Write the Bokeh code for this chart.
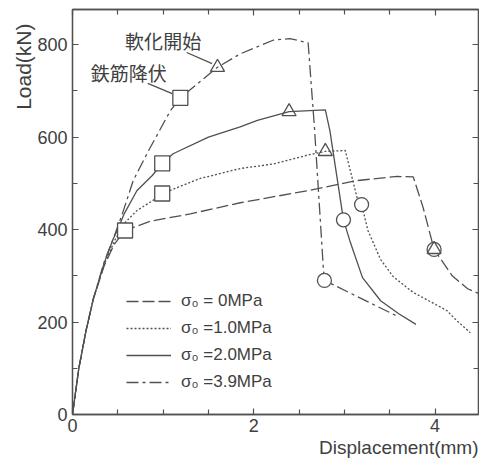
from bokeh.plotting import figure
from bokeh.models import Range1d, LinearAxis, FixedTicker, Legend, LegendItem, Title
from bokeh.embed import file_html
from bokeh.resources import INLINE
from bokeh.core.properties import value

# ---- data ----
x_s0 = [0, 0.07, 0.15, 0.23, 0.35, 0.46, 0.58, 0.86, 1.30, 1.85, 2.59, 3.14, 3.58, 3.76, 3.87, 3.99, 4.19, 4.36, 4.48]
y_s0 = [0, 100, 182, 250, 322, 368, 398, 418, 434, 458, 484, 506, 515, 514, 447, 357, 300, 272, 262]

x_s1 = [0, 0.07, 0.15, 0.23, 0.35, 0.47, 0.58, 0.71, 0.88, 0.99, 1.40, 1.85, 2.22, 2.59, 2.79, 3.01, 3.14, 3.19, 3.26, 3.40, 3.54, 3.76, 4.13, 4.24, 4.39]
y_s1 = [0, 100, 182, 250, 325, 378, 415, 441, 462, 478, 510, 532, 542, 561, 569, 571, 469, 454, 398, 335, 298, 264, 225, 203, 177]

x_s2 = [0, 0.07, 0.15, 0.23, 0.35, 0.45, 0.51, 0.57, 0.71, 0.88, 0.99, 1.11, 1.50, 1.85, 2.04, 2.39, 2.79, 2.84, 2.99, 3.06, 3.20, 3.40, 3.60, 3.79]
y_s2 = [0, 100, 182, 250, 328, 380, 405, 434, 484, 517, 543, 564, 600, 622, 636, 655, 659, 614, 421, 376, 296, 246, 218, 195]

x_s3 = [0, 0.07, 0.15, 0.23, 0.35, 0.47, 0.55, 0.67, 0.84, 1.08, 1.19, 1.60, 1.85, 2.22, 2.40, 2.60, 2.67, 2.77, 2.78, 3.59]
y_s3 = [0, 100, 182, 250, 330, 391, 434, 506, 571, 657, 685, 751, 780, 810, 813, 804, 620, 310, 290, 212]

series_labels = ["σ₀ = 0MPa", "σ₀ =1.0MPa", "σ₀ =2.0MPa", "σ₀ =3.9MPa"]

# markers: rebar yield (squares), softening start (triangles), circles
sq_x = [0.58, 0.99, 0.99, 1.19]
sq_y = [398, 478, 543, 685]
tri_x = [3.99, 2.79, 2.39, 1.60]
tri_y = [357, 569, 655, 751]
cir_x = [3.99, 3.19, 2.99, 2.78]
cir_y = [357, 454, 421, 290]

# annotations
ann_text = ["軟化開始", "鉄筋降伏"]
ann_x = [1.00, 0.62]
ann_y = [809, 739]
lead_x0 = [1.26, 0.83]
lead_y0 = [783, 716]
lead_x1 = [1.54, 1.10]
lead_y1 = [759, 694]

x_major = [0, 2, 4]
x_minor = [0.5, 1, 1.5, 2.5, 3, 3.5, 4.5]
y_major = [0, 200, 400, 600, 800]
y_minor = [100, 300, 500, 700]

x_title = "Displacement(mm)"
y_title = "Load(kN)"

# ---- style ----
LC = "#505050"
TC = "#404040"
FONT = "Liberation Sans"

p = figure(width=479, height=463, x_range=Range1d(0, 4.48), y_range=Range1d(0, 876),
           output_backend="svg", toolbar_location=None,
           min_border_left=72, min_border_right=1, min_border_top=9, min_border_bottom=49)
p.grid.visible = False
p.outline_line_color = LC
p.outline_line_width = 1.3
p.background_fill_color = "white"
p.border_fill_color = "white"

xt = FixedTicker(ticks=x_major, minor_ticks=x_minor)
yt = FixedTicker(ticks=y_major, minor_ticks=y_minor)


def style(ax, labels=True):
    ax.axis_line_color = LC
    ax.axis_line_width = 1.3
    ax.major_tick_line_color = LC
    ax.minor_tick_line_color = LC
    ax.major_tick_line_width = 1.2
    ax.minor_tick_line_width = 1.2
    ax.major_tick_in = 6
    ax.major_tick_out = 0
    ax.minor_tick_in = 5
    ax.minor_tick_out = 0
    if labels:
        ax.major_label_text_font = FONT
        ax.major_label_text_font_size = "18px"
        ax.major_label_text_color = TC
        ax.major_label_standoff = 5
    else:
        ax.major_label_text_font_size = "0px"
        ax.major_label_standoff = 0


p.xaxis.ticker = xt
p.yaxis.ticker = yt
style(p.xaxis[0])
style(p.yaxis[0])
p.xaxis[0].major_label_standoff = 4

top = LinearAxis(ticker=FixedTicker(ticks=x_major, minor_ticks=x_minor),
                 major_label_overrides={0: "", 2: "", 4: ""})
style(top, labels=False)
p.add_layout(top, "above")
right = LinearAxis(ticker=FixedTicker(ticks=y_major, minor_ticks=y_minor),
                   major_label_overrides={0: "", 200: "", 400: "", 600: "", 800: ""})
style(right, labels=False)
p.add_layout(right, "right")

# ---- curves ----
lw = 1.3
r0 = p.line(x_s0, y_s0, line_color=LC, line_width=lw, line_dash="12 4")
r1 = p.line(x_s1, y_s1, line_color=LC, line_width=lw, line_dash="2 2")
r2 = p.line(x_s2, y_s2, line_color=LC, line_width=lw)
r3 = p.line(x_s3, y_s3, line_color=LC, line_width=lw, line_dash="12 4 3 4")

# leader lines
p.segment(x0=lead_x0, y0=lead_y0, x1=lead_x1, y1=lead_y1, line_color=LC, line_width=1.3)

# markers
p.scatter(sq_x, sq_y, marker="square", size=15, fill_color="white", line_color=LC, line_width=1.3)
p.scatter(cir_x, cir_y, marker="circle", size=14, fill_color="white", line_color=LC, line_width=1.3)
p.scatter(tri_x, tri_y, marker="triangle", size=14, fill_color="white", line_color=LC, line_width=1.3,
          fill_alpha=0.0)

# annotation texts
p.text(ann_x, ann_y, text=ann_text, text_font=value("Noto Sans CJK JP"), text_font_size="19px",
       text_color=TC, text_align="center", text_baseline="middle")

# legend
legend = Legend(items=[LegendItem(label=series_labels[i], renderers=[r]) for i, r in enumerate([r0, r1, r2, r3])],
                location=(54, 22), orientation="vertical", padding=0, margin=0, spacing=7,
                glyph_width=45, glyph_height=20, label_height=20, label_standoff=10,
                label_text_font=FONT, label_text_font_size="17px", label_text_color=TC,
                border_line_color=None, background_fill_alpha=0.0)
p.add_layout(legend, "center")

# axis titles (as side titles so they can be aligned like the reference)
p.add_layout(Title(text=x_title, align="right", standoff=0, text_font=FONT, text_font_size="19px",
                   text_font_style="normal", text_color=TC), "below")
p.add_layout(Title(text=y_title, align="right", standoff=0, offset=14, text_font=FONT, text_font_size="21px",
                   text_font_style="normal", text_color=TC), "left")

open("out.html", "w").write(file_html(p, INLINE))
